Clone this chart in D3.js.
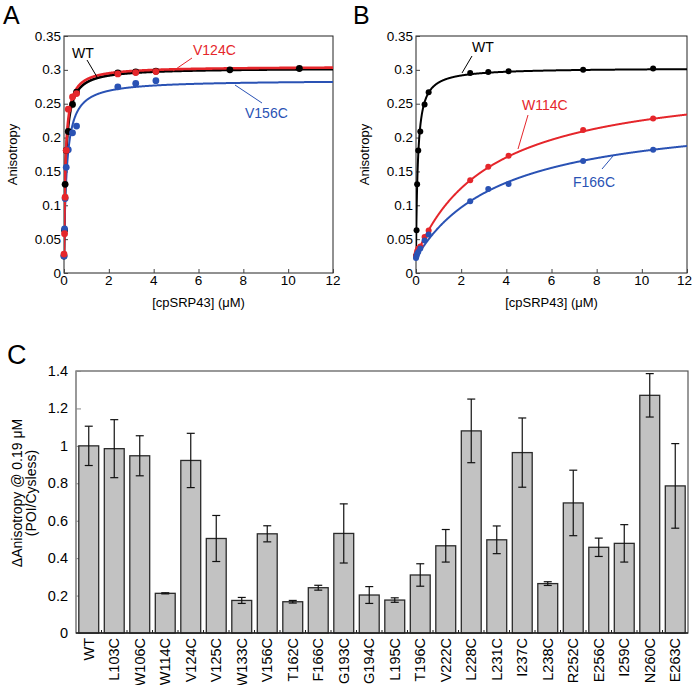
<!DOCTYPE html>
<html><head><meta charset="utf-8">
<script src="https://cdn.jsdelivr.net/npm/d3@7"></script>
<style>
body{margin:0;background:#fff;}
svg text{font-family:"Liberation Sans",Arial,Helvetica,sans-serif;}
</style></head><body>
<svg id="c" width="693" height="685"></svg>
<script>
// ---------- Data: panels A & B (titration, [cpSRP43] in µM vs anisotropy)
const wtConc   = [0, 0.025, 0.05, 0.1, 0.19, 0.38, 0.56, 2.4, 3.2, 4.1, 7.4, 10.5];
const wtAniso  = [0.025, 0.063, 0.131, 0.181, 0.209, 0.249, 0.267, 0.2955, 0.297, 0.298, 0.300, 0.302];
const v124cConc  = [0, 0.025, 0.05, 0.1, 0.19, 0.38, 0.56, 2.4, 3.2, 4.1];
const v124cAniso = [0.028, 0.058, 0.112, 0.181, 0.242, 0.260, 0.265, 0.294, 0.296, 0.2975];
const v156cConc  = [0, 0.025, 0.05, 0.1, 0.19, 0.38, 0.56, 2.4, 3.2, 4.1];
const v156cAniso = [0.025, 0.065, 0.110, 0.156, 0.182, 0.207, 0.217, 0.275, 0.280, 0.284];
const w114cConc  = [0, 0.025, 0.05, 0.1, 0.19, 0.38, 0.56, 2.4, 3.2, 4.1, 7.4, 10.5];
const w114cAniso = [0.0246, 0.028, 0.032, 0.036, 0.039, 0.053, 0.0626, 0.137, 0.157, 0.173, 0.211, 0.228];
const f166cConc  = [0, 0.025, 0.05, 0.1, 0.19, 0.38, 0.56, 2.4, 3.2, 4.1, 7.4, 10.5];
const f166cAniso = [0.022, 0.025, 0.028, 0.031, 0.036, 0.048, 0.0567, 0.106, 0.124, 0.1315, 0.1655, 0.182];
// hyperbolic binding fits: base + amp * x / (Kd + x)
const fitNames = ["WT", "V124C", "V156C", "W114C", "F166C"];
const fitBase  = [0.025, 0.028, 0.025, 0.025, 0.022];
const fitAmp   = [0.278, 0.277, 0.260, 0.267, 0.2187];
const fitKd    = [0.085, 0.075, 0.13, 3.33, 3.85];
const xTicksAB = [0, 2, 4, 6, 8, 10, 12];
const yTicksAB = [0, 0.05, 0.1, 0.15, 0.2, 0.25, 0.3, 0.35];

// ---------- Data: panel C
const mutants = ["WT","L103C","W106C","W114C","V124C","V125C","W133C","V156C","T162C","F166C","G193C",
  "G194C","L195C","T196C","V222C","L228C","L231C","I237C","L238C","R252C","E256C","I259C","N260C","E263C"];
const barValues = [1.0,0.985,0.947,0.212,0.922,0.505,0.174,0.530,0.167,0.242,0.532,
  0.203,0.176,0.310,0.466,1.080,0.498,0.964,0.264,0.695,0.458,0.479,1.270,0.786];
const barErrors = [0.105,0.155,0.107,0.003,0.145,0.123,0.016,0.043,0.007,0.013,0.158,
  0.045,0.012,0.060,0.087,0.170,0.074,0.185,0.010,0.175,0.049,0.100,0.116,0.226];
const yTicksC = [0, 0.2, 0.4, 0.6, 0.8, 1, 1.2, 1.4];

const RED = "#e5262b", BLUE = "#2a52b4", BLACK = "#000";
const svg = d3.select("#c");
const fmt = d => d === 0 ? "0" : String(+d.toFixed(2));

function txt(g, x, y, s, opt = {}) {
  const t = g.append("text").attr("x", x).attr("y", y).text(s)
    .attr("font-size", opt.size || 13).attr("fill", opt.fill || "#000")
    .attr("text-anchor", opt.anchor || "middle");
  if (opt.rotate) t.attr("transform", `rotate(${opt.rotate},${x},${y})`);
  return t;
}

function panel(left, right, top, bottom, series, labels, letter, letterX, rPt) {
  const g = svg.append("g");
  const x = d3.scaleLinear().domain([0, 12]).range([left, right]);
  const y = d3.scaleLinear().domain([0, 0.35]).range([bottom, top]);
  g.append("rect").attr("x", left).attr("y", top).attr("width", right - left).attr("height", bottom - top)
    .attr("fill", "none").attr("stroke", "#222").attr("stroke-width", 1);
  const ya = g.append("g").attr("transform", `translate(${left},0)`)
    .call(d3.axisRight(y).tickValues(yTicksAB).tickSize(4).tickFormat(""));
  ya.select(".domain").remove();
  ya.selectAll("line").attr("stroke", "#444");
  yTicksAB.forEach(v => txt(g, left - 3, y(v) + 4.5, fmt(v), {anchor: "end", size: 13.5}));
  const xa = g.append("g").attr("transform", `translate(0,${bottom})`)
    .call(d3.axisTop(x).tickValues(xTicksAB).tickSize(4).tickFormat(""));
  xa.select(".domain").remove();
  xa.selectAll("line").attr("stroke", "#444");
  xTicksAB.forEach(v => {
    const px = x(v);
    if (px + 8 > 693) txt(g, 692, bottom + 12, String(v), {size: 13.5, anchor: "end"});
    else txt(g, px, bottom + 12, String(v), {size: 13.5});
  });
  txt(g, (left + right) / 2, bottom + 34, "[cpSRP43] (μM)", {size: 13});
  txt(g, left - 47, (top + bottom) / 2, "Anisotropy", {size: 13, rotate: -90});
  txt(g, letterX, 24, letter, {size: 25, anchor: "start"});

  const clip = "clip" + letter;
  g.append("clipPath").attr("id", clip).append("rect")
    .attr("x", left).attr("y", top - 2).attr("width", right - left).attr("height", bottom - top + 4);
  const xs = d3.range(0, 1201).map(i => i / 100);
  series.forEach(s => {
    const k = fitNames.indexOf(s.name);
    const line = d3.line().x(v => x(v)).y(v => y(fitBase[k] + fitAmp[k] * v / (fitKd[k] + v)));
    g.append("path").attr("d", line(xs)).attr("fill", "none").attr("stroke", s.color)
      .attr("stroke-width", s.lw).attr("clip-path", `url(#${clip})`);
  });
  series.forEach(s => {
    g.selectAll(null).data(s.conc.map((c, i) => [c, s.aniso[i]])).join("circle")
      .attr("cx", d => x(d[0])).attr("cy", d => y(d[1])).attr("r", rPt).attr("fill", s.color);
  });
  labels.forEach(l => {
    g.append("line").attr("x1", l.l[0]).attr("y1", l.l[1]).attr("x2", l.l[2]).attr("y2", l.l[3])
      .attr("stroke", l.color).attr("stroke-width", 1);
    txt(g, l.x, l.y, l.text, {size: 14, fill: l.color, anchor: "start"});
  });
}

panel(64, 333, 36, 273, [
  {name: "WT", conc: wtConc, aniso: wtAniso, color: BLACK, lw: 2.6},
  {name: "V156C", conc: v156cConc, aniso: v156cAniso, color: BLUE, lw: 2},
  {name: "V124C", conc: v124cConc, aniso: v124cAniso, color: RED, lw: 2.6}
], [
  {text: "WT", x: 72, y: 58, color: BLACK, l: [87, 60, 97, 77]},
  {text: "V124C", x: 193, y: 55, color: RED, l: [192, 58, 173, 71]},
  {text: "V156C", x: 245, y: 118, color: BLUE, l: [235, 85, 262, 103]}
], "A", 3, 3.4);

panel(416, 687, 36, 273, [
  {name: "WT", conc: wtConc, aniso: wtAniso, color: BLACK, lw: 2},
  {name: "W114C", conc: w114cConc, aniso: w114cAniso, color: RED, lw: 2},
  {name: "F166C", conc: f166cConc, aniso: f166cAniso, color: BLUE, lw: 2}
], [
  {text: "WT", x: 472, y: 52, color: BLACK, l: [472, 56, 462, 73]},
  {text: "W114C", x: 522, y: 110, color: RED, l: [528, 115, 518, 149]},
  {text: "F166C", x: 573, y: 187, color: BLUE, l: [602, 169, 613, 156]}
], "B", 353, 3);

// ---------- Panel C
(function() {
  const left = 76, right = 688, top = 371, bottom = 633;
  const g = svg.append("g");
  const x = d3.scaleBand().domain(mutants).range([left, right]).paddingInner(0.22).paddingOuter(0.11);
  const y = d3.scaleLinear().domain([0, 1.4]).range([bottom, top]);
  g.append("rect").attr("x", left).attr("y", top).attr("width", right - left).attr("height", bottom - top)
    .attr("fill", "none").attr("stroke", "#555").attr("stroke-width", 1.2);
  const ya = g.append("g").attr("transform", `translate(${left},0)`)
    .call(d3.axisRight(y).tickValues(yTicksC).tickSize(5).tickFormat(""));
  ya.select(".domain").remove();
  ya.selectAll("line").attr("stroke", "#888");
  yTicksC.forEach(v => txt(g, left - 8, y(v) + 5, fmt(v), {anchor: "end", size: 14.5}));
  g.selectAll(null).data(mutants).join("rect")
    .attr("x", d => x(d)).attr("width", x.bandwidth())
    .attr("y", (d, i) => y(barValues[i])).attr("height", (d, i) => bottom - y(barValues[i]))
    .attr("fill", "#c2c2c2").attr("stroke", "#2a2a2a").attr("stroke-width", 1.3);
  mutants.forEach((m, i) => {
    const cx = x(m) + x.bandwidth() / 2;
    const hi = y(barValues[i] + barErrors[i]), lo = y(barValues[i] - barErrors[i]);
    g.append("line").attr("x1", cx).attr("x2", cx).attr("y1", hi).attr("y2", lo).attr("stroke", "#111").attr("stroke-width", 1.2);
    [hi, lo].forEach(yy => g.append("line").attr("x1", cx - 4).attr("x2", cx + 4).attr("y1", yy).attr("y2", yy)
      .attr("stroke", "#111").attr("stroke-width", 1.2));
  });
  g.append("line").attr("x1", left).attr("x2", right).attr("y1", bottom).attr("y2", bottom).attr("stroke", "#222").attr("stroke-width", 1.5);
  mutants.forEach((m, i) => {
    const bx = x(m) - x.step() * x.paddingInner() / 2;
    if (i > 0) g.append("line").attr("x1", bx).attr("x2", bx).attr("y1", bottom).attr("y2", bottom - 3).attr("stroke", "#222");
  });
  mutants.forEach(m => {
    const cx = x(m) + x.bandwidth() / 2 + 5;
    txt(g, cx, bottom + 5, m, {anchor: "end", size: 14.5, rotate: -90});
  });
  txt(g, 22, 493, "ΔAnisotropy @ 0.19 μM", {size: 14, rotate: -90});
  txt(g, 36, 493, "(POI/Cysless)", {size: 14, rotate: -90});
  txt(g, 7, 364, "C", {size: 27, anchor: "start"});
})();
</script></body></html>
